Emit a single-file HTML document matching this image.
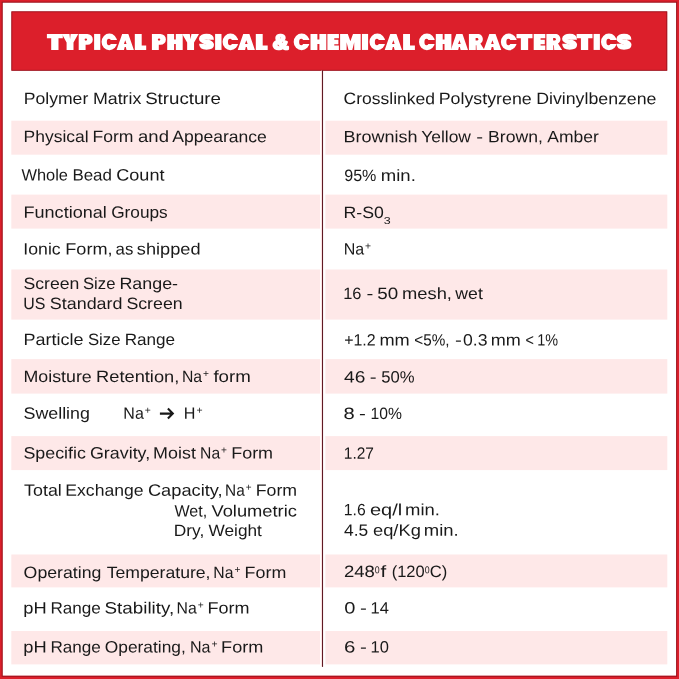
<!DOCTYPE html>
<html><head><meta charset="utf-8"><title>Typical Physical &amp; Chemical Characteristics</title>
<style>
html,body{margin:0;padding:0;}
body{width:679px;height:679px;position:relative;overflow:hidden;background:#fff;font-family:"Liberation Sans",sans-serif;}
.t{position:absolute;white-space:nowrap;font-size:16.4px;line-height:20px;height:20px;left:0;top:0;color:#191919;transform-origin:0 0;text-rendering:geometricPrecision;}
.sp{font-size:10.6px;position:relative;top:-4.8px;margin-left:1.0px;line-height:0;}
.u{position:absolute;white-space:nowrap;font-size:10px;line-height:12px;height:12px;left:0;top:0;color:#191919;transform-origin:0 0;text-rendering:geometricPrecision;}
</style></head>
<body>
<svg width="679" height="679" viewBox="0 0 679 679" style="position:absolute;left:0;top:0">
<path fill="#dc1f2b" fill-rule="evenodd" d="M0 0H679V679H0Z M2.6 2.6V675.8H676.2V2.6Z"/>
<rect x="11.40" y="11.40" width="655.80" height="59.30" fill="#dc1f2b"/>
<rect x="11.80" y="11.80" width="655.00" height="58.50" fill="none" stroke="#86101a" stroke-width="0.8" stroke-opacity="0.85"/>
<rect x="2.15" y="2.15" width="674.50" height="674.10" fill="none" stroke="#86101a" stroke-width="0.9" stroke-opacity="0.85"/>
<rect x="11.30" y="120.70" width="308.70" height="34.00" fill="#fee8e8"/>
<rect x="325.40" y="120.70" width="341.90" height="34.00" fill="#fee8e8"/>
<rect x="11.30" y="194.60" width="308.70" height="34.00" fill="#fee8e8"/>
<rect x="325.40" y="194.60" width="341.90" height="34.00" fill="#fee8e8"/>
<rect x="11.30" y="269.50" width="308.70" height="50.10" fill="#fee8e8"/>
<rect x="325.40" y="269.50" width="341.90" height="50.10" fill="#fee8e8"/>
<rect x="11.30" y="359.10" width="308.70" height="34.50" fill="#fee8e8"/>
<rect x="325.40" y="359.10" width="341.90" height="34.50" fill="#fee8e8"/>
<rect x="11.30" y="436.10" width="308.70" height="34.00" fill="#fee8e8"/>
<rect x="325.40" y="436.10" width="341.90" height="34.00" fill="#fee8e8"/>
<rect x="11.30" y="554.50" width="308.70" height="32.90" fill="#fee8e8"/>
<rect x="325.40" y="554.50" width="341.90" height="32.90" fill="#fee8e8"/>
<rect x="11.30" y="631.00" width="308.70" height="33.40" fill="#fee8e8"/>
<rect x="325.40" y="631.00" width="341.90" height="33.40" fill="#fee8e8"/>
<rect x="321.00" y="70.70" width="1.05" height="595.90" fill="#fbe3e3"/>
<rect x="322.05" y="70.50" width="1.00" height="596.40" fill="#5a0f1a"/>
</svg>
<svg width="679" height="80" viewBox="0 0 679 80" style="position:absolute;left:0;top:0;will-change:transform">
<path transform="translate(46.90 33.95)" fill="#fff" d="M0 0 L15.9 0 L15.9 4.4 L11.6 4.4 L11.6 16 L4.3 16 L4.3 4.4 L0 4.4Z"/>
<path transform="translate(61.90 33.95)" fill="#fff" d="M0 0 L7.6 0 L8.15 5.2 L8.7 0 L16.3 0 L11.6 8.6 L11.6 16 L4.7 16 L4.7 8.6Z"/>
<path transform="translate(78.70 33.95)" fill="#fff" d="M0 0H8.65A5.45 5.45 0 0 1 8.65 10.9H6.9V16H0Z"/>
<path transform="translate(78.70 33.95)" fill="#dc1f2b" d="M5.9 5.65a1.25 1.1 0 1 1 2.5 0a1.25 1.1 0 1 1 -2.5 0Z"/>
<path transform="translate(94.10 33.95)" fill="#fff" d="M0 0 L6.2 0 L6.2 16 L0 16Z"/>
<path transform="translate(101.60 33.95)" fill="#fff" d="M0 8A7.75 8.35 0 1 1 15.5 8A7.75 8.35 0 1 1 0 8Z"/>
<path transform="translate(101.60 33.95)" fill="#dc1f2b" d="M5.25 8a2.1 3.2 0 1 1 4.2 0a2.1 3.2 0 1 1 -4.2 0Z M7.55 6H16.5V10H7.55Z"/>
<path transform="translate(116.60 33.95)" fill="#fff" d="M0 16 L5.55 0 L11.75 0 L17.3 16 L9.9 16 L9.2 13 L8.1 13 L7.4 16Z"/>
<path transform="translate(116.60 33.95)" fill="#dc1f2b" d="M8.65 6.2 L9.95 10 L7.35 10Z"/>
<path transform="translate(134.80 33.95)" fill="#fff" d="M0 0 L6.9 0 L6.9 11.6 L11.4 11.6 L11.4 16 L0 16Z"/>
<path transform="translate(151.90 33.95)" fill="#fff" d="M0 0H8.55A5.45 5.45 0 0 1 8.55 10.9H6.9V16H0Z"/>
<path transform="translate(151.90 33.95)" fill="#dc1f2b" d="M5.9 5.65a1.25 1.1 0 1 1 2.5 0a1.25 1.1 0 1 1 -2.5 0Z"/>
<path transform="translate(167.20 33.95)" fill="#fff" d="M0 0 L6.9 0 L6.9 5.6 L8.6 5.6 L8.6 0 L15.5 0 L15.5 16 L8.6 16 L8.6 10 L6.9 10 L6.9 16 L0 16Z"/>
<path transform="translate(182.20 33.95)" fill="#fff" d="M0 0 L7.6 0 L8.4 5.2 L9.2 0 L16.8 0 L11.85 8.6 L11.85 16 L4.95 16 L4.95 8.6Z"/>
<path transform="translate(199.00 33.95)" fill="none" stroke="#fff" stroke-width="5.2" d="M12.3 5.75C12.3 3.6 10.8 2.45 7.5 2.45C4.2 2.45 2.6 3.3 2.6 4.75C2.6 6.5 5 7 7.5 7.8C10 8.6 12.4 9.1 12.4 10.9C12.4 12.3 10.8 13.15 7.5 13.15C4.2 13.15 2.7 12 2.7 9.85"/>
<path transform="translate(215.10 33.95)" fill="#fff" d="M0 0 L6.4 0 L6.4 16 L0 16Z"/>
<path transform="translate(222.60 33.95)" fill="#fff" d="M0 8A7.85 8.35 0 1 1 15.7 8A7.85 8.35 0 1 1 0 8Z"/>
<path transform="translate(222.60 33.95)" fill="#dc1f2b" d="M5.35 8a2.1 3.2 0 1 1 4.2 0a2.1 3.2 0 1 1 -4.2 0Z M7.65 6H16.7V10H7.65Z"/>
<path transform="translate(237.70 33.95)" fill="#fff" d="M0 16 L5.5 0 L11.7 0 L17.2 16 L9.8 16 L9.1 13 L8.1 13 L7.4 16Z"/>
<path transform="translate(237.70 33.95)" fill="#dc1f2b" d="M8.6 6.2 L9.9 10 L7.3 10Z"/>
<path transform="translate(255.80 33.95)" fill="#fff" d="M0 0 L6.9 0 L6.9 11.6 L11.9 11.6 L11.9 16 L0 16Z"/>
<g transform="translate(272.75 49.04) scale(1.0929 1.0296)" font-family="Liberation Sans, sans-serif" font-weight="bold" font-size="20" fill="#fff" stroke="#fff" stroke-width="2.2" stroke-linejoin="round" style="text-rendering:geometricPrecision"><text x="0" y="0">&amp;</text></g>
<path transform="translate(293.70 33.95)" fill="#fff" d="M0 8A7.95 8.35 0 1 1 15.9 8A7.95 8.35 0 1 1 0 8Z"/>
<path transform="translate(293.70 33.95)" fill="#dc1f2b" d="M5.45 8a2.1 3.2 0 1 1 4.2 0a2.1 3.2 0 1 1 -4.2 0Z M7.75 6H16.9V10H7.75Z"/>
<path transform="translate(310.50 33.95)" fill="#fff" d="M0 0 L6.9 0 L6.9 5.6 L8.9 5.6 L8.9 0 L15.8 0 L15.8 16 L8.9 16 L8.9 10 L6.9 10 L6.9 16 L0 16Z"/>
<path transform="translate(327.40 33.95)" fill="#fff" d="M0 0 L11.5 0 L11.5 4.4 L6.9 4.4 L6.9 5.8 L11 5.8 L11 10.2 L6.9 10.2 L6.9 11.6 L11.5 11.6 L11.5 16 L0 16Z"/>
<path transform="translate(340.10 33.95)" fill="#fff" d="M0 0 L7.7 0 L10.3 7.3 L12.9 0 L20.6 0 L20.6 16 L14.1 16 L14.1 8.3 L12.2 16 L8.4 16 L6.5 8.3 L6.5 16 L0 16Z"/>
<path transform="translate(361.90 33.95)" fill="#fff" d="M0 0 L6.2 0 L6.2 16 L0 16Z"/>
<path transform="translate(369.50 33.95)" fill="#fff" d="M0 8A7.85 8.35 0 1 1 15.7 8A7.85 8.35 0 1 1 0 8Z"/>
<path transform="translate(369.50 33.95)" fill="#dc1f2b" d="M5.35 8a2.1 3.2 0 1 1 4.2 0a2.1 3.2 0 1 1 -4.2 0Z M7.65 6H16.7V10H7.65Z"/>
<path transform="translate(384.70 33.95)" fill="#fff" d="M0 16 L5.55 0 L11.75 0 L17.3 16 L9.9 16 L9.2 13 L8.1 13 L7.4 16Z"/>
<path transform="translate(384.70 33.95)" fill="#dc1f2b" d="M8.65 6.2 L9.95 10 L7.35 10Z"/>
<path transform="translate(403.10 33.95)" fill="#fff" d="M0 0 L6.9 0 L6.9 11.6 L11.8 11.6 L11.8 16 L0 16Z"/>
<path transform="translate(419.00 33.95)" fill="#fff" d="M0 8A7.95 8.35 0 1 1 15.9 8A7.95 8.35 0 1 1 0 8Z"/>
<path transform="translate(419.00 33.95)" fill="#dc1f2b" d="M5.45 8a2.1 3.2 0 1 1 4.2 0a2.1 3.2 0 1 1 -4.2 0Z M7.75 6H16.9V10H7.75Z"/>
<path transform="translate(435.80 33.95)" fill="#fff" d="M0 0 L6.9 0 L6.9 5.6 L8.7 5.6 L8.7 0 L15.6 0 L15.6 16 L8.7 16 L8.7 10 L6.9 10 L6.9 16 L0 16Z"/>
<path transform="translate(450.80 33.95)" fill="#fff" d="M0 16 L5.5 0 L11.7 0 L17.2 16 L9.8 16 L9.1 13 L8.1 13 L7.4 16Z"/>
<path transform="translate(450.80 33.95)" fill="#dc1f2b" d="M8.6 6.2 L9.9 10 L7.3 10Z"/>
<path transform="translate(468.90 33.95)" fill="#fff" d="M0 0H9.9A5.3 5.3 0 0 1 11.5 9.6L15.6 16H7.7L7.5 11.2H6.9V16H0Z"/>
<path transform="translate(468.90 33.95)" fill="#dc1f2b" d="M6.7 4.1h1.5a1.2 1.2 0 0 1 0 2.4h-1.5Z"/>
<path transform="translate(483.60 33.95)" fill="#fff" d="M0 16 L5.75 0 L11.95 0 L17.7 16 L10.3 16 L9.6 13 L8.1 13 L7.4 16Z"/>
<path transform="translate(483.60 33.95)" fill="#dc1f2b" d="M8.85 6.2 L10.15 10 L7.55 10Z"/>
<path transform="translate(500.90 33.95)" fill="#fff" d="M0 8A7.95 8.35 0 1 1 15.9 8A7.95 8.35 0 1 1 0 8Z"/>
<path transform="translate(500.90 33.95)" fill="#dc1f2b" d="M5.45 8a2.1 3.2 0 1 1 4.2 0a2.1 3.2 0 1 1 -4.2 0Z M7.75 6H16.9V10H7.75Z"/>
<path transform="translate(516.50 33.95)" fill="#fff" d="M0 0 L16 0 L16 4.4 L11.65 4.4 L11.65 16 L4.35 16 L4.35 4.4 L0 4.4Z"/>
<path transform="translate(533.70 33.95)" fill="#fff" d="M0 0 L11.6 0 L11.6 4.4 L6.9 4.4 L6.9 5.8 L11.1 5.8 L11.1 10.2 L6.9 10.2 L6.9 11.6 L11.6 11.6 L11.6 16 L0 16Z"/>
<path transform="translate(546.40 33.95)" fill="#fff" d="M0 0H10A5.3 5.3 0 0 1 11.6 9.6L15.7 16H7.8L7.5 11.2H6.9V16H0Z"/>
<path transform="translate(546.40 33.95)" fill="#dc1f2b" d="M6.7 4.1h1.5a1.2 1.2 0 0 1 0 2.4h-1.5Z"/>
<path transform="translate(562.10 33.95)" fill="none" stroke="#fff" stroke-width="5.2" d="M12.3 5.75C12.3 3.6 10.8 2.45 7.5 2.45C4.2 2.45 2.6 3.3 2.6 4.75C2.6 6.5 5 7 7.5 7.8C10 8.6 12.4 9.1 12.4 10.9C12.4 12.3 10.8 13.15 7.5 13.15C4.2 13.15 2.7 12 2.7 9.85"/>
<path transform="translate(576.60 33.95)" fill="#fff" d="M0 0 L15.9 0 L15.9 4.4 L11.6 4.4 L11.6 16 L4.3 16 L4.3 4.4 L0 4.4Z"/>
<path transform="translate(593.60 33.95)" fill="#fff" d="M0 0 L6.3 0 L6.3 16 L0 16Z"/>
<path transform="translate(601.00 33.95)" fill="#fff" d="M0 8A7.95 8.35 0 1 1 15.9 8A7.95 8.35 0 1 1 0 8Z"/>
<path transform="translate(601.00 33.95)" fill="#dc1f2b" d="M5.45 8a2.1 3.2 0 1 1 4.2 0a2.1 3.2 0 1 1 -4.2 0Z M7.75 6H16.9V10H7.75Z"/>
<path transform="translate(616.50 33.95)" fill="none" stroke="#fff" stroke-width="5.2" d="M12.3 5.75C12.3 3.6 10.8 2.45 7.5 2.45C4.2 2.45 2.6 3.3 2.6 4.75C2.6 6.5 5 7 7.5 7.8C10 8.6 12.4 9.1 12.4 10.9C12.4 12.3 10.8 13.15 7.5 13.15C4.2 13.15 2.7 12 2.7 9.85"/>
</svg>
<div style="position:absolute;left:0;top:0;width:679px;height:679px;will-change:transform">
<div class="t" style="transform:translate(23.74px,89.00px) matrix(1.0734,0.0005,0,1,0,0)">Polymer</div>
<div class="t" style="transform:translate(92.92px,89.00px) matrix(1.0860,0.0005,0,1,0,0)">Matrix</div>
<div class="t" style="transform:translate(145.14px,89.00px) matrix(1.1402,0.0005,0,1,0,0)">Structure</div>
<div class="t" style="transform:translate(23.55px,127.10px) matrix(1.0668,0.0005,0,1,0,0)">Physical</div>
<div class="t" style="transform:translate(92.44px,127.10px) matrix(1.0723,0.0005,0,1,0,0)">Form</div>
<div class="t" style="transform:translate(138.05px,127.10px) matrix(1.1286,0.0005,0,1,0,0)">and</div>
<div class="t" style="transform:translate(172.22px,127.10px) matrix(1.0707,0.0005,0,1,0,0)">Appearance</div>
<div class="t" style="transform:translate(21.48px,165.60px) matrix(1.0007,0.0005,0,1,0,0)">Whole</div>
<div class="t" style="transform:translate(72.39px,165.60px) matrix(1.0330,0.0005,0,1,0,0)">Bead</div>
<div class="t" style="transform:translate(116.25px,165.60px) matrix(1.1026,0.0005,0,1,0,0)">Count</div>
<div class="t" style="transform:translate(23.50px,202.80px) matrix(1.1015,0.0005,0,1,0,0)">Functional</div>
<div class="t" style="transform:translate(111.19px,202.80px) matrix(1.0520,0.0005,0,1,0,0)">Groups</div>
<div class="t" style="transform:translate(23.36px,239.40px) matrix(1.0776,0.0005,0,1,0,0)">Ionic</div>
<div class="t" style="transform:translate(65.30px,239.40px) matrix(1.1037,0.0005,0,1,0,0)">Form,</div>
<div class="t" style="transform:translate(115.62px,239.40px) matrix(1.0263,0.0005,0,1,0,0)">as</div>
<div class="t" style="transform:translate(136.86px,239.40px) matrix(1.1096,0.0005,0,1,0,0)">shipped</div>
<div class="t" style="transform:translate(23.50px,273.90px) matrix(1.0752,0.0005,0,1,0,0)">Screen</div>
<div class="t" style="transform:translate(82.96px,273.90px) matrix(1.0175,0.0005,0,1,0,0)">Size</div>
<div class="t" style="transform:translate(119.42px,273.90px) matrix(1.0903,0.0005,0,1,0,0)">Range-</div>
<div class="t" style="transform:translate(23.25px,294.00px) matrix(0.9712,0.0005,0,1,0,0)">US</div>
<div class="t" style="transform:translate(49.79px,294.00px) matrix(1.0930,0.0005,0,1,0,0)">Standard</div>
<div class="t" style="transform:translate(126.40px,294.00px) matrix(1.0832,0.0005,0,1,0,0)">Screen</div>
<div class="t" style="transform:translate(23.51px,330.00px) matrix(1.0978,0.0005,0,1,0,0)">Particle</div>
<div class="t" style="transform:translate(87.96px,330.00px) matrix(1.0208,0.0005,0,1,0,0)">Size</div>
<div class="t" style="transform:translate(124.68px,330.00px) matrix(1.0449,0.0005,0,1,0,0)">Range</div>
<div class="t" style="transform:translate(23.52px,367.10px) matrix(1.0850,0.0005,0,1,0,0)">Moisture</div>
<div class="t" style="transform:translate(96.09px,367.10px) matrix(1.1132,0.0005,0,1,0,0)">Retention,</div>
<div class="t" style="transform:translate(181.99px,367.10px) matrix(0.9605,0.0005,0,1,0,0)">Na<span class="sp">+</span></div>
<div class="t" style="transform:translate(213.40px,367.10px) matrix(1.1413,0.0005,0,1,0,0)">form</div>
<div class="t" style="transform:translate(23.49px,403.80px) matrix(1.0880,0.0005,0,1,0,0)">Swelling</div>
<div class="t" style="transform:translate(123.37px,403.80px) matrix(0.9758,0.0005,0,1,0,0)">Na<span class="sp">+</span></div>
<div class="t" style="transform:translate(183.86px,403.80px) matrix(0.9851,0.0005,0,1,0,0)">H<span class="sp">+</span></div>
<div class="t" style="transform:translate(23.49px,443.60px) matrix(1.0869,0.0005,0,1,0,0)">Specific</div>
<div class="t" style="transform:translate(89.96px,443.60px) matrix(1.0900,0.0005,0,1,0,0)">Gravity,</div>
<div class="t" style="transform:translate(153.11px,443.60px) matrix(1.0916,0.0005,0,1,0,0)">Moist</div>
<div class="t" style="transform:translate(200.10px,443.60px) matrix(0.9566,0.0005,0,1,0,0)">Na<span class="sp">+</span></div>
<div class="t" style="transform:translate(231.21px,443.60px) matrix(1.0947,0.0005,0,1,0,0)">Form</div>
<div class="t" style="transform:translate(24.08px,480.80px) matrix(1.0892,0.0005,0,1,0,0)">Total</div>
<div class="t" style="transform:translate(65.34px,480.80px) matrix(1.0730,0.0005,0,1,0,0)">Exchange</div>
<div class="t" style="transform:translate(147.94px,480.80px) matrix(1.1129,0.0005,0,1,0,0)">Capacity,</div>
<div class="t" style="transform:translate(225.12px,480.80px) matrix(0.9375,0.0005,0,1,0,0)">Na<span class="sp">+</span></div>
<div class="t" style="transform:translate(255.73px,480.80px) matrix(1.0807,0.0005,0,1,0,0)">Form</div>
<div class="t" style="transform:translate(174.49px,501.40px) matrix(0.9783,0.0005,0,1,0,0)">Wet,</div>
<div class="t" style="transform:translate(211.45px,501.40px) matrix(1.1171,0.0005,0,1,0,0)">Volumetric</div>
<div class="t" style="transform:translate(173.66px,521.10px) matrix(1.0595,0.0005,0,1,0,0)">Dry,</div>
<div class="t" style="transform:translate(208.57px,521.10px) matrix(1.0506,0.0005,0,1,0,0)">Weight</div>
<div class="t" style="transform:translate(23.62px,563.00px) matrix(1.0811,0.0005,0,1,0,0)">Operating</div>
<div class="t" style="transform:translate(106.68px,563.00px) matrix(1.0752,0.0005,0,1,0,0)">Temperature,</div>
<div class="t" style="transform:translate(213.29px,563.00px) matrix(0.9605,0.0005,0,1,0,0)">Na<span class="sp">+</span></div>
<div class="t" style="transform:translate(244.62px,563.00px) matrix(1.0891,0.0005,0,1,0,0)">Form</div>
<div class="t" style="transform:translate(23.24px,598.60px) matrix(1.1165,0.0005,0,1,0,0)">pH</div>
<div class="t" style="transform:translate(50.38px,598.60px) matrix(1.0449,0.0005,0,1,0,0)">Range</div>
<div class="t" style="transform:translate(104.54px,598.60px) matrix(1.1474,0.0005,0,1,0,0)">Stability,</div>
<div class="t" style="transform:translate(176.59px,598.60px) matrix(0.9643,0.0005,0,1,0,0)">Na<span class="sp">+</span></div>
<div class="t" style="transform:translate(207.41px,598.60px) matrix(1.0975,0.0005,0,1,0,0)">Form</div>
<div class="t" style="transform:translate(23.24px,637.40px) matrix(1.1165,0.0005,0,1,0,0)">pH</div>
<div class="t" style="transform:translate(50.38px,637.40px) matrix(1.0449,0.0005,0,1,0,0)">Range</div>
<div class="t" style="transform:translate(104.74px,637.40px) matrix(1.0585,0.0005,0,1,0,0)">Operating,</div>
<div class="t" style="transform:translate(189.97px,637.40px) matrix(0.9796,0.0005,0,1,0,0)">Na<span class="sp">+</span></div>
<div class="t" style="transform:translate(221.10px,637.40px) matrix(1.1031,0.0005,0,1,0,0)">Form</div>
<div class="t" style="transform:translate(343.58px,89.10px) matrix(1.0687,0.0005,0,1,0,0)">Crosslinked</div>
<div class="t" style="transform:translate(438.72px,89.10px) matrix(1.0855,0.0005,0,1,0,0)">Polystyrene</div>
<div class="t" style="transform:translate(536.13px,89.10px) matrix(1.0827,0.0005,0,1,0,0)">Divinylbenzene</div>
<div class="t" style="transform:translate(343.50px,127.30px) matrix(1.0996,0.0005,0,1,0,0)">Brownish</div>
<div class="t" style="transform:translate(421.21px,127.30px) matrix(1.0630,0.0005,0,1,0,0)">Yellow</div>
<div class="t" style="transform:translate(476.34px,127.30px) matrix(1.2500,0.0005,0,1,0,0)">-</div>
<div class="t" style="transform:translate(488.04px,127.30px) matrix(1.0748,0.0005,0,1,0,0)">Brown,</div>
<div class="t" style="transform:translate(547.32px,127.30px) matrix(1.0671,0.0005,0,1,0,0)">Amber</div>
<div class="t" style="transform:translate(344.20px,165.90px) matrix(0.9813,0.0005,0,1,0,0)">95%</div>
<div class="t" style="transform:translate(380.79px,165.90px) matrix(1.1308,0.0005,0,1,0,0)">min.</div>
<div class="t" style="transform:translate(343.53px,203.00px) matrix(1.0791,0.0005,0,1,0,0)">R-S0</div>
<div class="u" style="transform:translate(383.81px,216.07px) matrix(1.2500,0.0005,0,1,0,0)">3</div>
<div class="t" style="transform:translate(343.67px,239.60px) matrix(0.9758,0.0005,0,1,0,0)">Na<span class="sp">+</span></div>
<div class="t" style="transform:translate(343.23px,283.90px) matrix(1.0023,0.0005,0,1,0,0)">16</div>
<div class="t" style="transform:translate(366.39px,283.90px) matrix(1.2500,0.0005,0,1,0,0)">-</div>
<div class="t" style="transform:translate(377.31px,283.90px) matrix(1.1473,0.0005,0,1,0,0)">50</div>
<div class="t" style="transform:translate(402.00px,283.90px) matrix(1.1191,0.0005,0,1,0,0)">mesh,</div>
<div class="t" style="transform:translate(455.35px,283.90px) matrix(1.0753,0.0005,0,1,0,0)">wet</div>
<div class="t" style="transform:translate(344.13px,330.60px) matrix(0.9726,0.0005,0,1,0,0)">+1.2</div>
<div class="t" style="transform:translate(379.41px,330.60px) matrix(1.1087,0.0005,0,1,0,0)">mm</div>
<div class="t" style="transform:translate(414.34px,330.60px) matrix(0.9322,0.0005,0,1,0,0)">&lt;5%,</div>
<div class="t" style="transform:translate(455.09px,330.60px) matrix(1.2500,0.0005,0,1,0,0)">-</div>
<div class="t" style="transform:translate(463.07px,330.60px) matrix(1.0756,0.0005,0,1,0,0)">0.3</div>
<div class="t" style="transform:translate(490.82px,330.60px) matrix(1.1007,0.0005,0,1,0,0)">mm</div>
<div class="t" style="transform:translate(525.38px,330.60px) matrix(0.8800,0.0005,0,1,0,0)">&lt;</div>
<div class="t" style="transform:translate(537.15px,330.60px) matrix(0.8800,0.0005,0,1,0,0)">1%</div>
<div class="t" style="transform:translate(344.02px,367.40px) matrix(1.1704,0.0005,0,1,0,0)">46</div>
<div class="t" style="transform:translate(369.64px,367.40px) matrix(1.2500,0.0005,0,1,0,0)">-</div>
<div class="t" style="transform:translate(381.22px,367.40px) matrix(1.0180,0.0005,0,1,0,0)">50%</div>
<div class="t" style="transform:translate(343.54px,404.10px) matrix(1.2294,0.0005,0,1,0,0)">8</div>
<div class="t" style="transform:translate(359.09px,404.10px) matrix(1.2500,0.0005,0,1,0,0)">-</div>
<div class="t" style="transform:translate(370.59px,404.10px) matrix(0.9568,0.0005,0,1,0,0)">10%</div>
<div class="t" style="transform:translate(343.80px,443.70px) matrix(0.9436,0.0005,0,1,0,0)">1.27</div>
<div class="t" style="transform:translate(343.78px,500.20px) matrix(0.9608,0.0005,0,1,0,0)">1.6</div>
<div class="t" style="transform:translate(369.89px,500.20px) matrix(1.2220,0.0005,0,1,0,0)">eq/l</div>
<div class="t" style="transform:translate(404.99px,500.20px) matrix(1.1272,0.0005,0,1,0,0)">min.</div>
<div class="t" style="transform:translate(344.06px,520.80px) matrix(1.0600,0.0005,0,1,0,0)">4.5</div>
<div class="t" style="transform:translate(372.97px,520.80px) matrix(1.1170,0.0005,0,1,0,0)">eq/Kg</div>
<div class="t" style="transform:translate(423.79px,520.80px) matrix(1.1272,0.0005,0,1,0,0)">min.</div>
<div class="t" style="transform:translate(343.97px,562.00px) matrix(1.1298,0.0005,0,1,0,0)">248</div>
<div class="t" style="transform:translate(380.56px,562.00px) matrix(1.2500,0.0005,0,1,0,0)">f</div>
<div class="t" style="transform:translate(391.64px,562.00px) matrix(1.0056,0.0005,0,1,0,0)">(120</div>
<div class="t" style="transform:translate(429.73px,562.00px) matrix(1.0135,0.0005,0,1,0,0)">C)</div>
<div class="u" style="transform:translate(374.80px,565.27px) matrix(0.8800,0.0005,0,1,0,0)">0</div>
<div class="u" style="transform:translate(424.80px,565.27px) matrix(0.8800,0.0005,0,1,0,0)">0</div>
<div class="t" style="transform:translate(344.17px,598.50px) matrix(1.2253,0.0005,0,1,0,0)">0</div>
<div class="t" style="transform:translate(359.89px,598.50px) matrix(1.2500,0.0005,0,1,0,0)">-</div>
<div class="t" style="transform:translate(370.53px,598.50px) matrix(1.0057,0.0005,0,1,0,0)">14</div>
<div class="t" style="transform:translate(344.00px,637.40px) matrix(1.2500,0.0005,0,1,0,0)">6</div>
<div class="t" style="transform:translate(359.89px,637.40px) matrix(1.2500,0.0005,0,1,0,0)">-</div>
<div class="t" style="transform:translate(370.52px,637.40px) matrix(1.0086,0.0005,0,1,0,0)">10</div>
</div>
<svg style="position:absolute;left:158px;top:406px" width="18" height="15" viewBox="0 0 18 15"><path d="M1.9 7.6 H14.6 M9.9 2.6 L14.8 7.6 L9.9 12.6" fill="none" stroke="#191919" stroke-width="2.1" stroke-linecap="butt" stroke-linejoin="miter"/></svg>
</body></html>
